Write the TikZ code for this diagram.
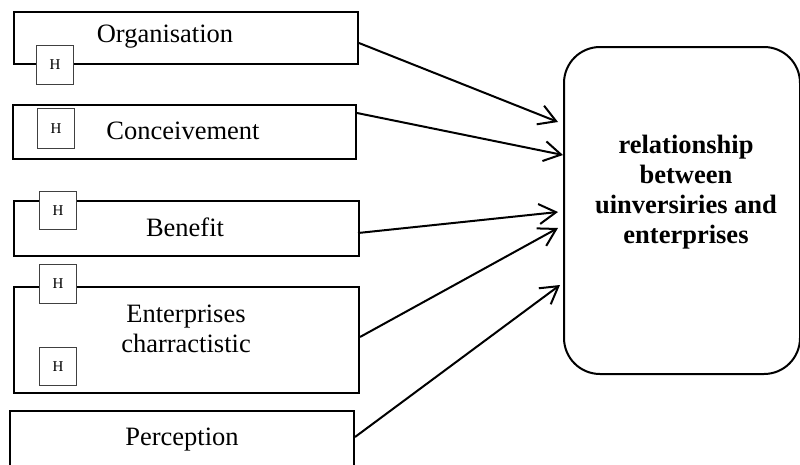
\documentclass[tikz,border=0pt]{standalone}
\usepackage{fontspec}
\setmainfont{Liberation Serif}
\usetikzlibrary{arrows.meta,calc}
\begin{document}
\begin{tikzpicture}[x=1pt,y=-1pt,
  box/.style={draw=black,line width=2pt,fill=white,inner sep=0pt,anchor=north west},
  hbox/.style={draw=black!75,line width=1pt,fill=white,inner sep=0pt,anchor=north west,
    font=\fontsize{15}{15}\selectfont},
  lbl/.style={font=\fontsize{26.5}{30}\selectfont,align=center,inner sep=0pt},
  arr/.style={line width=2pt,-{Straight Barb[length=17pt,width=20pt,line width=2pt]}}]
\useasboundingbox (0,0) rectangle (800,464);
% left boxes
\node[box,minimum width=344pt,minimum height=52pt] (b1) at (13,11) {};
\node[box,minimum width=343pt,minimum height=54pt] (b2) at (12,104) {};
\node[box,minimum width=345pt,minimum height=55pt] (b3) at (13,200) {};
\node[box,minimum width=345pt,minimum height=106pt] (b4) at (13,286) {};
\node[box,minimum width=344pt,minimum height=66pt] (b5) at (9,410) {};
% labels
\node[lbl] (t1) at (165,37) {Organisation};
\node[lbl] (t2) at (183,131) {Conceivement};
\node[lbl] (t3) at (185,227) {Benefit};
\node[lbl] (t4) at (186,329) {Enterprises\\charractistic};
\node[lbl] (t5) at (182,440) {Perception};
% H boxes
\node[hbox,minimum width=37pt,minimum height=39pt] (h1) at (36,45) {H};
\node[hbox,minimum width=37pt,minimum height=40pt] (h2) at (37,108) {H};
\node[hbox,minimum width=37pt,minimum height=38pt] (h3) at (39,191) {H};
\node[hbox,minimum width=37pt,minimum height=39pt] (h4) at (39,264) {H};
\node[hbox,minimum width=37pt,minimum height=38pt] (h5) at (39,347) {H};
% right box
\node[draw=black,line width=2pt,rounded corners=36pt,inner sep=0pt,anchor=north west,
  minimum width=236pt,minimum height=327pt] (R) at (563,46) {};
\node[lbl,font=\fontsize{26.5}{30}\selectfont\bfseries] (rt) at (686,192)
  {relationship\\between\\uinversiries and\\enterprises};
% connectors
\draw[arr] (b1.east |- 0,43) -- ([xshift=-5pt]R.west |- 0,122);
\draw[arr] (b2.east |- 0,113) -- (R.west |- 0,155);
\draw[arr] ([xshift=-2pt]b3.east |- 0,233) -- ([xshift=-5pt]R.west |- 0,212);
\draw[arr] (b4.east |- 0,337) -- ([xshift=-5pt]R.west |- 0,228);
\draw[arr] (b5.east |- 0,437) -- ([xshift=-3pt]R.west |- 0,285);
\end{tikzpicture}
\end{document}
